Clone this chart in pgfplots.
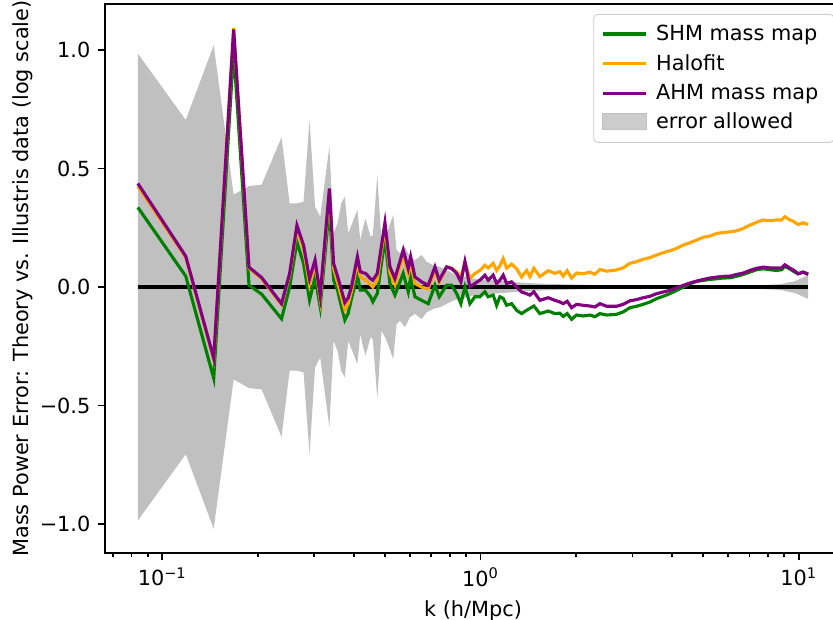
\documentclass[border=0pt]{standalone}
\usepackage{pgfplots}
\pgfplotsset{compat=1.18}
\usepackage{pgfplotstable}
\usepackage{fontspec}
\setmainfont{DejaVu Sans}
\definecolor{mplgreen}{HTML}{008000}
\definecolor{mplorange}{HTML}{FFA500}
\definecolor{mplpurple}{HTML}{800080}
\definecolor{silver}{HTML}{C0C0C0}

\pgfplotstableread{
k v
0.0838 0.336
0.1185 0.046
0.1451 -0.385
0.1676 1.000
0.1873 0.008
0.2052 -0.030
0.2370 -0.134
0.2513 0.000
0.2649 0.190
0.2779 0.100
0.2902 -0.055
0.3021 0.040
0.3135 -0.084
0.3351 0.340
0.3454 0.030
0.3555 -0.013
0.3652 -0.080
0.3747 -0.139
0.3839 -0.110
0.3930 -0.050
0.4104 0.050
0.4189 -0.013
0.4272 -0.013
0.4353 -0.013
0.4512 -0.040
0.4589 -0.062
0.4739 -0.027
0.5008 0.205
0.5192 0.015
0.5383 -0.034
0.5716 0.058
0.5928 -0.020
0.6032 0.043
0.6221 -0.041
0.6531 -0.056
0.6851 -0.070
0.7191 0.008
0.7418 -0.041
0.7825 0.008
0.8114 0.008
0.8413 -0.027
0.8677 -0.070
0.8934 0.001
0.9262 -0.070
0.9603 -0.041
0.9957 -0.041
1.0323 -0.020
1.0572 -0.041
1.0961 -0.034
1.1236 -0.077
1.1506 -0.041
1.1785 -0.048
1.2078 -0.077
1.2524 -0.070
1.2985 -0.098
1.3462 -0.112
1.3957 -0.098
1.4295 -0.090
1.4715 -0.080
1.5371 -0.112
1.6318 -0.101
1.7128 -0.112
1.7763 -0.110
1.8190 -0.124
1.8726 -0.112
1.9331 -0.136
2.0042 -0.118
2.1022 -0.122
2.2066 -0.118
2.2878 -0.125
2.3719 -0.112
2.4899 -0.118
2.6765 -0.115
2.8075 -0.105
2.9471 -0.087
3.0934 -0.081
3.2444 -0.073
3.4055 -0.063
3.5752 -0.049
3.7497 -0.039
3.9355 -0.028
4.1315 -0.014
4.3351 0.000
4.5499 0.014
4.7753 0.024
5.0083 0.028
5.2563 0.032
5.5182 0.035
5.7876 0.038
6.0742 0.039
6.3769 0.045
6.6880 0.053
7.0212 0.063
7.3688 0.073
7.7298 0.077
8.1123 0.073
8.5163 0.070
8.8308 0.073
9.0427 0.087
9.3756 0.077
9.6028 0.067
9.9563 0.056
10.323 0.063
10.703 0.056
}\shm

\pgfplotstableread{
k v
0.0838 0.425
0.1185 0.125
0.1451 -0.305
0.1676 1.092
0.1873 0.080
0.2052 0.035
0.2370 -0.075
0.2513 0.050
0.2649 0.245
0.2779 0.160
0.2902 0.010
0.3021 0.100
0.3135 -0.050
0.3351 0.400
0.3454 0.080
0.3555 0.020
0.3652 -0.040
0.3747 -0.095
0.3839 -0.070
0.3930 -0.020
0.4104 0.105
0.4189 0.045
0.4272 0.035
0.4353 0.030
0.4512 0.010
0.4589 0.000
0.4739 0.030
0.5008 0.255
0.5192 0.060
0.5383 0.010
0.5716 0.135
0.5928 0.055
0.6032 0.105
0.6221 0.015
0.6531 0.000
0.6851 -0.008
0.7191 0.070
0.7418 0.020
0.7825 0.085
0.8114 0.080
0.8413 0.065
0.8677 0.040
0.8934 0.107
0.9262 0.036
0.9603 0.057
0.9957 0.070
1.0323 0.092
1.0572 0.080
1.0961 0.100
1.1236 0.070
1.1506 0.090
1.1785 0.120
1.2078 0.080
1.2524 0.097
1.2985 0.077
1.3462 0.043
1.3957 0.070
1.4295 0.044
1.4715 0.079
1.5371 0.044
1.6318 0.069
1.7128 0.058
1.7763 0.065
1.8190 0.046
1.8726 0.069
1.9331 0.038
2.0042 0.059
2.1022 0.056
2.2066 0.063
2.2878 0.054
2.3719 0.074
2.4899 0.067
2.6765 0.072
2.8075 0.081
2.9471 0.100
3.0934 0.107
3.2444 0.117
3.4055 0.124
3.5752 0.135
3.7497 0.145
3.9355 0.153
4.1315 0.163
4.3351 0.177
4.5499 0.187
4.7753 0.198
5.0083 0.210
5.2563 0.215
5.5182 0.226
5.7876 0.230
6.0742 0.233
6.3769 0.237
6.6880 0.247
7.0212 0.261
7.3688 0.273
7.7298 0.283
8.1123 0.280
8.5163 0.283
8.8308 0.283
9.0427 0.297
9.3756 0.283
9.6028 0.278
9.9563 0.264
10.323 0.271
10.703 0.264
}\halofit

\pgfplotstableread{
k v
0.0838 0.437
0.1185 0.130
0.1451 -0.300
0.1676 1.087
0.1873 0.084
0.2052 0.040
0.2370 -0.070
0.2513 0.058
0.2649 0.260
0.2779 0.177
0.2902 0.035
0.3021 0.114
0.3135 -0.035
0.3351 0.416
0.3454 0.100
0.3555 0.045
0.3652 -0.010
0.3747 -0.065
0.3839 -0.045
0.3930 0.000
0.4104 0.128
0.4189 0.066
0.4272 0.060
0.4353 0.058
0.4512 0.035
0.4589 0.029
0.4739 0.058
0.5008 0.271
0.5192 0.085
0.5383 0.036
0.5716 0.156
0.5928 0.078
0.6032 0.128
0.6221 0.043
0.6531 0.022
0.6851 0.008
0.7191 0.085
0.7418 0.029
0.7825 0.085
0.8114 0.078
0.8413 0.058
0.8677 0.022
0.8934 0.107
0.9262 0.001
0.9603 0.015
0.9957 0.029
1.0323 0.050
1.0572 0.029
1.0961 0.050
1.1236 0.015
1.1506 0.029
1.1785 0.050
1.2078 0.015
1.2524 0.022
1.2985 0.000
1.3462 -0.021
1.3957 -0.028
1.4295 -0.034
1.4715 -0.020
1.5371 -0.056
1.6318 -0.045
1.7128 -0.056
1.7763 -0.063
1.8190 -0.070
1.8726 -0.060
1.9331 -0.087
2.0042 -0.073
2.1022 -0.077
2.2066 -0.080
2.2878 -0.084
2.3719 -0.070
2.4899 -0.081
2.6765 -0.081
2.8075 -0.073
2.9471 -0.058
3.0934 -0.053
3.2444 -0.045
3.4055 -0.039
3.5752 -0.028
3.7497 -0.021
3.9355 -0.014
4.1315 -0.003
4.3351 0.007
4.5499 0.017
4.7753 0.025
5.0083 0.032
5.2563 0.038
5.5182 0.042
5.7876 0.045
6.0742 0.046
6.3769 0.053
6.6880 0.059
7.0212 0.070
7.3688 0.079
7.7298 0.084
8.1123 0.081
8.5163 0.081
8.8308 0.081
9.0427 0.094
9.3756 0.080
9.6028 0.073
9.9563 0.056
10.323 0.063
10.703 0.053
}\ahm

% error band: upper edge left to right, then lower edge right to left
\pgfplotstableread{
k e
0.0838 0.985
0.1185 0.705
0.1451 1.020
0.1676 0.390
0.1873 0.426
0.2052 0.432
0.2370 0.632
0.2513 0.353
0.2649 0.353
0.2779 0.360
0.2902 0.705
0.3021 0.339
0.3135 0.297
0.3351 0.592
0.3454 0.227
0.3555 0.270
0.3652 0.354
0.3747 0.381
0.3839 0.227
0.3930 0.260
0.4104 0.325
0.4189 0.198
0.4272 0.250
0.4353 0.290
0.4512 0.212
0.4589 0.220
0.4739 0.472
0.4889 0.184
0.5070 0.226
0.5317 0.304
0.5449 0.156
0.5581 0.142
0.5787 0.170
0.6003 0.127
0.6221 0.113
0.6531 0.135
0.6771 0.107
0.7103 0.092
0.7455 0.085
0.7825 0.071
0.8208 0.057
0.8614 0.050
0.9044 0.043
0.9486 0.036
1.0197 0.032
1.1506 0.026
1.2985 0.020
1.4641 0.016
1.6520 0.013
2.3719 0.008
3.4055 0.006
4.8910 0.005
7.0212 0.006
8.7224 0.012
9.7228 0.025
10.703 0.050
10.703 -0.050
9.7228 -0.025
8.7224 -0.012
7.0212 -0.006
4.8910 -0.005
3.4055 -0.006
2.3719 -0.008
1.6520 -0.013
1.4641 -0.016
1.2985 -0.020
1.1506 -0.026
1.0197 -0.032
0.9486 -0.036
0.9044 -0.043
0.8614 -0.050
0.8208 -0.057
0.7825 -0.071
0.7455 -0.085
0.7103 -0.092
0.6771 -0.107
0.6531 -0.135
0.6221 -0.113
0.6003 -0.127
0.5787 -0.170
0.5581 -0.142
0.5449 -0.156
0.5317 -0.304
0.5070 -0.226
0.4889 -0.184
0.4739 -0.472
0.4589 -0.220
0.4512 -0.212
0.4353 -0.290
0.4272 -0.250
0.4189 -0.198
0.4104 -0.325
0.3930 -0.260
0.3839 -0.227
0.3747 -0.381
0.3652 -0.354
0.3555 -0.270
0.3454 -0.227
0.3351 -0.592
0.3135 -0.297
0.3021 -0.339
0.2902 -0.705
0.2779 -0.360
0.2649 -0.353
0.2513 -0.353
0.2370 -0.632
0.2052 -0.432
0.1873 -0.426
0.1676 -0.390
0.1451 -1.020
0.1185 -0.705
0.0838 -0.985
}\band

\begin{document}
\begin{tikzpicture}
\begin{axis}[
  at={(50.4pt,32.16pt)}, anchor=south west,
  scale only axis, width=353.3pt, height=263.5pt,
  xmode=log, log basis x=10,
  xmin=0.06607, xmax=13.58,
  ymin=-1.122, ymax=1.194,
  xtick={0.1,1,10},
  xticklabels={10\textsuperscript{−1},10\textsuperscript{0},10\textsuperscript{1}},
  minor xtick={0.07,0.08,0.09,0.2,0.3,0.4,0.5,0.6,0.7,0.8,0.9,2,3,4,5,6,7,8,9},
  ytick={-1,-0.5,0,0.5,1},
  yticklabels={−1.0,−0.5,0.0,0.5,1.0},
  tick align=outside,
  xtick pos=left, ytick pos=left,
  major tick length=3.5pt, minor tick length=2pt,
  every tick/.style={black, line width=0.8pt},
  axis line style={line width=0.8pt},
  tick label style={font=\fontsize{10}{12}\selectfont},
  label style={font=\fontsize{10}{12}\selectfont},
  xlabel={k (h/Mpc)},
  ylabel={Mass Power Error: Theory vs. Illustris data (log scale)},
  ylabel style={yshift=-3.4pt},
  legend cell align=left,
  legend style={at={(0.991,0.982)}, anchor=north east, draw=black!20,
    rounded corners=2pt, fill=white, fill opacity=0.8, text opacity=1,
    font=\fontsize{10}{12}\selectfont, row sep=1.2pt, inner xsep=3.5pt, inner ysep=3pt,
    nodes={inner xsep=4pt}},
]
\addplot[fill=silver, draw=none, forget plot] table[x=k,y=e]{\band};
\addplot[black, line width=2pt, forget plot] coordinates {(0.0838,0) (10.703,0)};
\addplot[mplgreen, line width=1.5pt,
  legend image code/.code={\draw[mplgreen, line width=1.5pt, sharp corners] (0pt,0pt) -- (21pt,0pt);}]
  table[x=k,y=v]{\shm};
\addlegendentry{SHM mass map}
\addplot[mplorange, line width=1.5pt,
  legend image code/.code={\draw[mplorange, line width=1.5pt, sharp corners] (0pt,0pt) -- (21pt,0pt);}]
  table[x=k,y=v]{\halofit};
\addlegendentry{Halofit}
\addplot[mplpurple, line width=1.5pt,
  legend image code/.code={\draw[mplpurple, line width=1.5pt, sharp corners] (0pt,0pt) -- (21pt,0pt);}]
  table[x=k,y=v]{\ahm};
\addlegendentry{AHM mass map}
\addlegendimage{legend image code/.code={\fill[silver, sharp corners] (0pt,-3.5pt) rectangle (21pt,4.2pt);}}
\addlegendentry{error allowed}
\end{axis}
\pgfresetboundingbox
\useasboundingbox (0,0) rectangle (399.84pt,297.6pt);
\end{tikzpicture}
\end{document}
